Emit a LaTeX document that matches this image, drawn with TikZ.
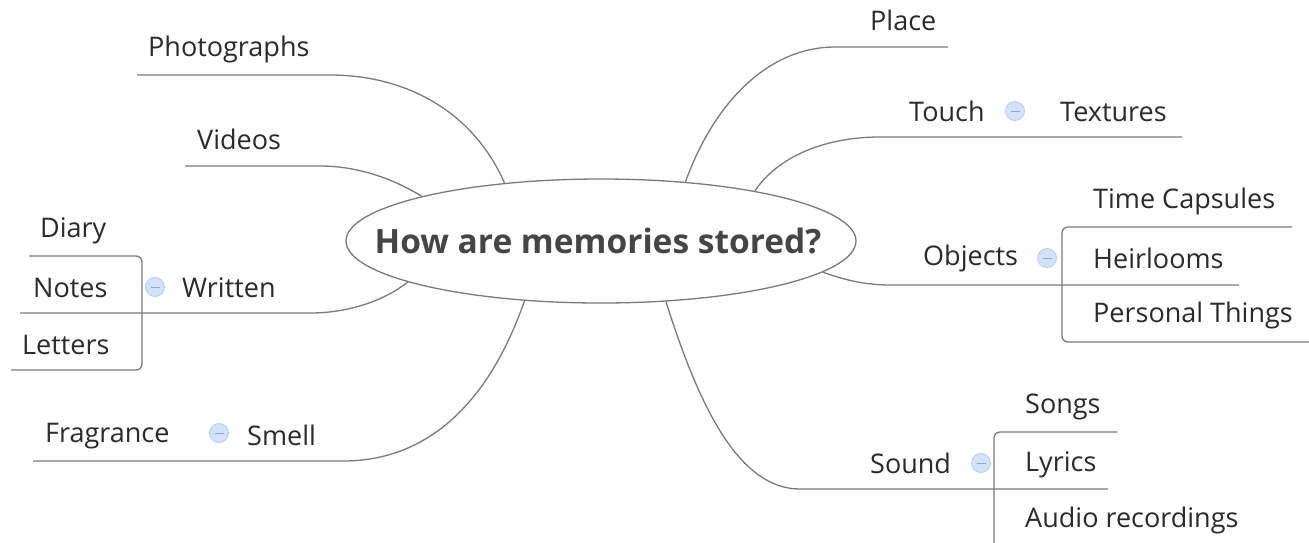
\documentclass[tikz,border=0pt]{standalone}
\usepackage{fontspec}
\setmainfont{Open Sans}
\usetikzlibrary{shapes.geometric}
\definecolor{txt}{HTML}{2A2A2A}
\definecolor{ttl}{HTML}{454545}
\definecolor{ln}{HTML}{7A7A7A}
\definecolor{cfill}{HTML}{D3E2FA}
\definecolor{cdraw}{HTML}{B6CCF0}
\definecolor{cminus}{HTML}{8BA7D8}
\tikzset{
  lbl/.style={anchor=base west, inner sep=0pt, text=txt, font=\fontsize{27}{32}\selectfont},
  conn/.style={draw=ln, line width=1.3pt},
  bracket/.style={draw=ln, line width=1.3pt, rounded corners=6pt},
  collapse/.style={circle, draw=cdraw, fill=cfill, minimum size=19pt, inner sep=0pt, line width=0.8pt,
    path picture={\draw[cminus, line width=1pt] ([xshift=-4.5pt]path picture bounding box.center) -- ([xshift=4.5pt]path picture bounding box.center);}},
  central/.style={ellipse, draw=ln, line width=1.3pt, minimum width=510pt, minimum height=124pt, inner sep=0pt},
  title/.style={inner sep=0pt, text=ttl, font=\bfseries\fontsize{33.5}{40}\selectfont}
}
\begin{document}
\begin{tikzpicture}[x=1pt, y=-1pt]
\useasboundingbox[fill=white] (0,0) rectangle (1309,542);

% central
\node[central] (c) at (601,241) {};
\node[title] (t) at (598,241) {How are memories stored?};

% free ends of the branch lines
\coordinate (phE) at (137,75);
\coordinate (viE) at (185,166);
\coordinate (wrE) at (20,313);
\coordinate (smE) at (33,461);
\coordinate (plE) at (948,47);
\coordinate (toE) at (1182,137);
\coordinate (obE) at (1239,285);
\coordinate (soE) at (1108,489);

% connectors
\draw[conn] (c.149.2) .. controls (475,115) and (410,75) .. (330,75) -- (phE);
\draw[conn] (c.166.3) .. controls (395,180) and (360,166) .. (320,166) -- (viE);
\draw[conn] (c.192.8) .. controls (385,300) and (350,313) .. (310,313) -- (wrE);
\draw[conn] (c.218.3) .. controls (490,400) and (430,461) .. (343,461) -- (smE);
\draw[conn] (c.35.7) .. controls (715,100) and (770,47) .. (835,47) -- (plE);
\draw[conn] (c.18.5) .. controls (775,160) and (820,137) .. (880,137) -- (toE);
\draw[conn] (c.352.7) .. controls (845,280) and (865,285) .. (890,285) -- (obE);
\draw[conn] (c.317.7) .. controls (700,410) and (740,489) .. (800,489) -- (soE);

% brackets
\draw[bracket] (29,256) -| (142,370) -- (11,370);
\draw[bracket] (1292,227) -| (1062,342) -- (1309,342);
\draw[bracket] (1117,432) -| (994,545);

% left labels
\node[lbl] (ph) at (148,56) {Photographs};
\node[lbl] (vi) at (197,149) {Videos};
\node[lbl] (di) at (40,237) {Diary};
\node[lbl] (no) at (33,297) {Notes};
\node[lbl] (le) at (22,354) {Letters};
\node[lbl] (wr) at (182,297) {Written};
\node[collapse] (wrC) at (155,287) {};
\node[lbl] (fr) at (45,442) {Fragrance};
\node[lbl] (sm) at (247,445) {Smell};
\node[collapse] (smC) at (219,433) {};

% right labels
\node[lbl] (pl) at (870,30) {Place};
\node[lbl] (to) at (909,121) {Touch};
\node[collapse] (toC) at (1015,111) {};
\node[lbl] (te) at (1060,121) {Textures};
\node[lbl] (ob) at (923,265) {Objects};
\node[collapse] (obC) at (1047,258) {};
\node[lbl] (tc) at (1093,208) {Time Capsules};
\node[lbl] (he) at (1093,268) {Heirlooms};
\node[lbl] (pt) at (1093,322) {Personal Things};
\node[lbl] (so) at (870,473) {Sound};
\node[collapse] (soC) at (981,463) {};
\node[lbl] (sg) at (1025,413) {Songs};
\node[lbl] (ly) at (1025,471) {Lyrics};
\node[lbl] (au) at (1025,527) {Audio recordings};
\end{tikzpicture}
\end{document}
